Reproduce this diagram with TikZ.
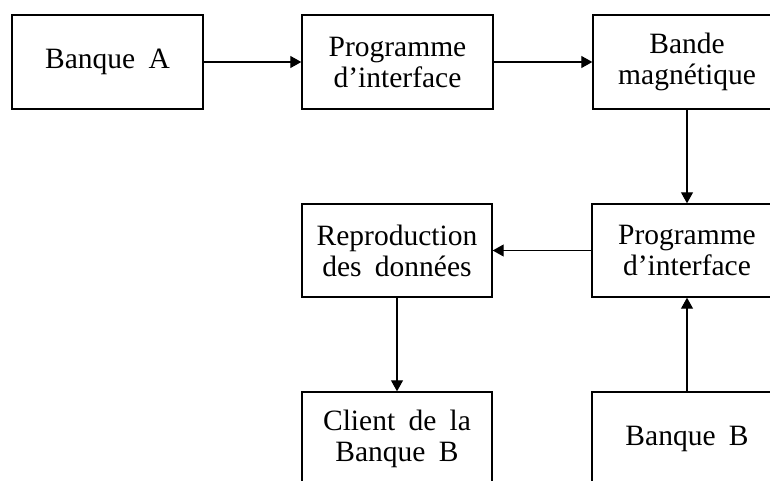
\documentclass[tikz,border=0pt]{standalone}
\usepackage{fontspec}
\setmainfont{Liberation Serif}[WordSpace=1.8]
\usetikzlibrary{arrows.meta}
\begin{document}
\begin{tikzpicture}[x=1pt,y=-1pt,
  box/.style={draw, line width=1.4pt, minimum width=190pt, minimum height=94pt,
    inner sep=0pt, align=center, font=\fontsize{29.5}{31}\selectfont},
  arr/.style={line width=1.1pt, -{Triangle[length=11pt,width=12pt]}}]
\useasboundingbox (0,0) rectangle (770,481);
\clip (0,0) rectangle (770,481);
\node[box, minimum width=191pt] (a) at (107.5,62) {Banque A};
\node[box, minimum width=191pt] (p1) at (397.5,62) {Programme\\d'interface};
\node[box, minimum width=188pt] (bm) at (687,62) {Bande\\magnétique};
\node[box, minimum height=93pt] (p2) at (687,250.5) {Programme\\d'interface};
\node[box, minimum height=93pt] (rd) at (397,250.5) {Reproduction\\des données};
\node[box] (cl) at (397,439) {Client de la\\Banque B};
\node[box] (bb) at (687,439) {Banque B};
\draw[arr] (a) -- (p1);
\draw[arr] (p1) -- (bm);
\draw[arr] (bm.south) -- (p2.north);
\draw[arr] (p2.west) -- (rd.east);
\draw[arr] (rd.south) -- (cl.north);
\draw[arr] (bb.north) -- (p2.south);
\end{tikzpicture}
\end{document}
